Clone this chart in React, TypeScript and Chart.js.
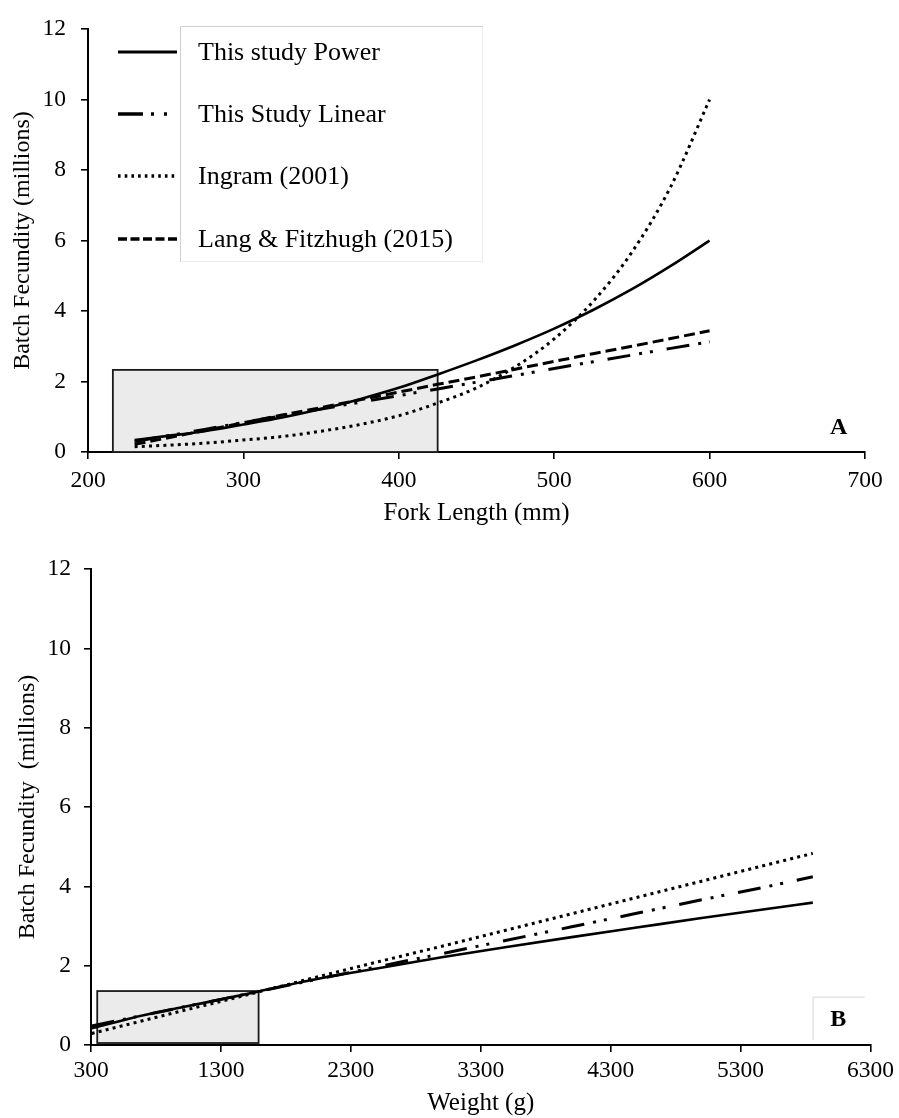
import { useEffect, useRef } from "react";
import { Chart, registerables } from "chart.js";

Chart.register(...registerables);

const SERIF = "'Liberation Serif', 'Times New Roman', serif";

// panel A : batch fecundity (millions) vs fork length (mm)
const forkLength = [230, 250, 275, 300, 325, 350, 375, 400, 425, 450, 475, 500, 525, 550, 575, 600];
const powerFL = [0.34, 0.45, 0.59, 0.78, 0.98, 1.22, 1.5, 1.82, 2.2, 2.6, 3.03, 3.5, 4.03, 4.62, 5.28, 6.0];
const linearFL = [0.3, 0.45, 0.64, 0.84, 1.03, 1.22, 1.41, 1.6, 1.79, 1.98, 2.17, 2.37, 2.56, 2.75, 2.94, 3.13];
const ingramFL = [0.15, 0.19, 0.25, 0.34, 0.44, 0.59, 0.78, 1.03, 1.39, 1.82, 2.42, 3.21, 4.27, 5.67, 7.53, 10.0];
const langFL = [0.22, 0.39, 0.61, 0.83, 1.05, 1.26, 1.48, 1.7, 1.92, 2.13, 2.35, 2.57, 2.79, 3.0, 3.22, 3.44];

// panel B : batch fecundity (millions) vs weight (g)
const weight = [305, 600, 1000, 1300, 1590, 2000, 2500, 3000, 3500, 4000, 4500, 5000, 5500, 5856];
const powerW = [0.42, 0.67, 0.95, 1.15, 1.35, 1.64, 1.93, 2.21, 2.47, 2.72, 2.96, 3.2, 3.43, 3.59];
const linearW = [0.48, 0.68, 0.95, 1.15, 1.35, 1.63, 1.97, 2.3, 2.64, 2.98, 3.32, 3.66, 3.99, 4.24];
const ingramW = [0.29, 0.53, 0.86, 1.1, 1.34, 1.68, 2.09, 2.49, 2.9, 3.31, 3.72, 4.13, 4.54, 4.83];

const forkTicks = [200, 300, 400, 500, 600, 700];
const weightTicks = [300, 1300, 2300, 3300, 4300, 5300, 6300];
const fecundityTicks = [0, 2, 4, 6, 8, 10, 12];

const legendLabels = ["This study Power", "This Study Linear", "Ingram (2001)", "Lang & Fitzhugh (2015)"];

// shaded ranges of the observed data
const boxA = { x0: 216, x1: 425, y0: 0, y1: 2.33 };
const boxB = { x0: 348, x1: 1590, y0: 0.05, y1: 1.36 };

const styles = {
  power: { width: 2.6, dash: [] as number[], legendDash: [] as number[] },
  linear: { width: 3, dash: [23, 9, 3, 8, 3, 14], legendDash: [25, 8, 3, 10, 3, 30] },
  ingram: { width: 3, dash: [3, 4.2], legendDash: [2.6, 4.1] },
  lang: { width: 3, dash: [11, 5], legendDash: [9, 3.5] },
};

const pts = (xs: number[], ys: number[]) => xs.map((x, i) => ({ x, y: ys[i] }));

function lineSet(label: string, data: { x: number; y: number }[], st: { width: number; dash: number[] }, curved: boolean) {
  return {
    label,
    data,
    borderColor: "#000",
    borderWidth: st.width,
    borderDash: st.dash,
    borderCapStyle: "butt" as const,
    pointRadius: 0,
    fill: false,
    tension: curved ? 0.4 : 0,
    cubicInterpolationMode: curved ? ("monotone" as const) : ("default" as const),
  };
}

function panelPlugin(
  box: { x0: number; x1: number; y0: number; y1: number },
  letter: string,
  letterAt: { x: number; y: number },
  letterBox: { x0: number; x1: number; y0: number; y1: number } | null,
  withLegend: boolean
) {
  return {
    id: "panelDecor" + letter,
    beforeDatasetsDraw(chart: any) {
      const { ctx } = chart;
      const { x, y } = chart.scales;
      const l = x.getPixelForValue(box.x0);
      const r = x.getPixelForValue(box.x1);
      const t = y.getPixelForValue(box.y1);
      const b = y.getPixelForValue(box.y0);
      ctx.save();
      ctx.fillStyle = "#ebebeb";
      ctx.fillRect(l, t, r - l, b - t);
      ctx.strokeStyle = "#1a1a1a";
      ctx.lineWidth = 1.8;
      ctx.strokeRect(l, t, r - l, b - t);
      ctx.restore();
    },
    afterDatasetsDraw(chart: any) {
      const { ctx } = chart;
      const { x, y } = chart.scales;
      ctx.save();
      if (letterBox) {
        const l = x.getPixelForValue(letterBox.x0);
        const r = x.getPixelForValue(letterBox.x1);
        const t = y.getPixelForValue(letterBox.y1);
        const b = y.getPixelForValue(letterBox.y0);
        ctx.strokeStyle = "#d4d4d4";
        ctx.lineWidth = 1;
        ctx.beginPath();
        ctx.moveTo(l + 0.5, b);
        ctx.lineTo(l + 0.5, t + 0.5);
        ctx.lineTo(r, t + 0.5);
        ctx.stroke();
      }
      ctx.fillStyle = "#000";
      ctx.font = `bold 24px ${SERIF}`;
      ctx.textAlign = "center";
      ctx.textBaseline = "middle";
      ctx.fillText(letter, x.getPixelForValue(letterAt.x), y.getPixelForValue(letterAt.y));

      if (withLegend) {
        // legend frame
        ctx.fillStyle = "#fff";
        ctx.fillRect(180, 26, 303, 236);
        ctx.strokeStyle = "#cfcfcf";
        ctx.lineWidth = 1;
        ctx.beginPath();
        ctx.moveTo(483, 26.5);
        ctx.lineTo(180.5, 26.5);
        ctx.lineTo(180.5, 262);
        ctx.stroke();
        ctx.strokeStyle = "#ececec";
        ctx.beginPath();
        ctx.moveTo(180.5, 261.5);
        ctx.lineTo(483, 261.5);
        ctx.moveTo(482.5, 26.5);
        ctx.lineTo(482.5, 262);
        ctx.stroke();

        const rows = [52, 114, 176, 239];
        const order = [styles.power, styles.linear, styles.ingram, styles.lang];
        order.forEach((st, i) => {
          ctx.strokeStyle = "#000";
          ctx.lineWidth = st.width + 0.4;
          ctx.lineCap = "butt";
          ctx.setLineDash(st.legendDash);
          ctx.beginPath();
          ctx.moveTo(118, rows[i]);
          ctx.lineTo(177, rows[i]);
          ctx.stroke();
          ctx.setLineDash([]);
          ctx.fillStyle = "#000";
          ctx.font = `26px ${SERIF}`;
          ctx.textAlign = "left";
          ctx.textBaseline = "middle";
          ctx.fillText(legendLabels[i], 198, rows[i] + 1);
        });
      }
      ctx.restore();
    },
  };
}

function axes(
  xMin: number,
  xMax: number,
  xTicks: number[],
  xTitle: string,
  yTitle: string,
  yWidth: number,
  xHeight: number,
  xPad: number,
  yPad: number,
  xTitlePad: number,
  yTitlePad: number
) {
  const tickFont = { family: SERIF, size: 23.5 };
  const titleFont = { family: SERIF, size: 25 };
  const plain = (v: any) => String(v);
  return {
    x: {
      type: "linear" as const,
      min: xMin,
      max: xMax,
      afterBuildTicks: (s: any) => {
        s.ticks = xTicks.map((v) => ({ value: v }));
      },
      afterFit: (s: any) => {
        s.height = xHeight;
      },
      ticks: { color: "#000", font: tickFont, padding: xPad, maxRotation: 0, autoSkip: false, callback: plain },
      grid: { display: true, drawOnChartArea: false, drawTicks: true, tickLength: 7, color: "#000", lineWidth: 1.6 },
      border: { display: true, color: "#000", width: 2 },
      title: { display: true, text: xTitle, color: "#000", font: titleFont, padding: { top: 0, bottom: xTitlePad } },
    },
    y: {
      type: "linear" as const,
      min: 0,
      max: 12,
      afterBuildTicks: (s: any) => {
        s.ticks = fecundityTicks.map((v) => ({ value: v }));
      },
      afterFit: (s: any) => {
        s.width = yWidth;
      },
      ticks: { color: "#000", font: tickFont, padding: yPad, callback: plain },
      grid: { display: true, drawOnChartArea: false, drawTicks: true, tickLength: 7, color: "#000", lineWidth: 1.6 },
      border: { display: true, color: "#000", width: 2 },
      title: { display: true, text: yTitle, color: "#000", font: { family: SERIF, size: 24 }, padding: { top: yTitlePad, bottom: 0 } },
    },
  };
}

export default function App() {
  const topRef = useRef<HTMLCanvasElement>(null);
  const bottomRef = useRef<HTMLCanvasElement>(null);

  useEffect(() => {
    if (!topRef.current || !bottomRef.current) return;

    const chartA = new Chart(topRef.current, {
      type: "line",
      data: {
        datasets: [
          lineSet(legendLabels[3], pts(forkLength, langFL), styles.lang, false),
          lineSet(legendLabels[1], pts(forkLength, linearFL), styles.linear, false),
          lineSet(legendLabels[2], pts(forkLength, ingramFL), styles.ingram, true),
          lineSet(legendLabels[0], pts(forkLength, powerFL), styles.power, true),
        ],
      },
      options: {
        animation: false,
        responsive: true,
        maintainAspectRatio: false,
        layout: { padding: { left: 0, right: 34, top: 20, bottom: 0 } },
        plugins: { legend: { display: false }, tooltip: { enabled: false } },
        scales: axes(200, 700, forkTicks, "Fork Length (mm)", "Batch Fecundity (millions)", 88, 88, 8, 15, 12, 8),
      } as any,
      plugins: [panelPlugin(boxA, "A", { x: 683, y: 0.7 }, null, true)],
    });

    const chartB = new Chart(bottomRef.current, {
      type: "line",
      data: {
        datasets: [
          lineSet(legendLabels[2], pts(weight, ingramW), styles.ingram, false),
          lineSet(legendLabels[1], pts(weight, linearW), styles.linear, false),
          lineSet(legendLabels[0], pts(weight, powerW), styles.power, true),
        ],
      },
      options: {
        animation: false,
        responsive: true,
        maintainAspectRatio: false,
        layout: { padding: { left: 0, right: 28, top: 29, bottom: 0 } },
        plugins: { legend: { display: false }, tooltip: { enabled: false } },
        scales: axes(300, 6300, weightTicks, "Weight (g)", "Batch Fecundity  (millions)", 91, 73, 5, 13, 0, 13),
      } as any,
      plugins: [
        panelPlugin(boxB, "B", { x: 6052, y: 0.63 }, { x0: 5854, x1: 6254, y0: 0.12, y1: 1.22 }, false),
      ],
    });

    return () => {
      chartA.destroy();
      chartB.destroy();
    };
  }, []);

  return (
    <div style={{ position: "absolute", left: 0, top: 0, width: 899, height: 1118, background: "#fff" }}>
      <div style={{ position: "absolute", left: 0, top: 0, width: 899, height: 540 }}>
        <canvas ref={topRef} />
      </div>
      <div style={{ position: "absolute", left: 0, top: 540, width: 899, height: 578 }}>
        <canvas ref={bottomRef} />
      </div>
    </div>
  );
}
